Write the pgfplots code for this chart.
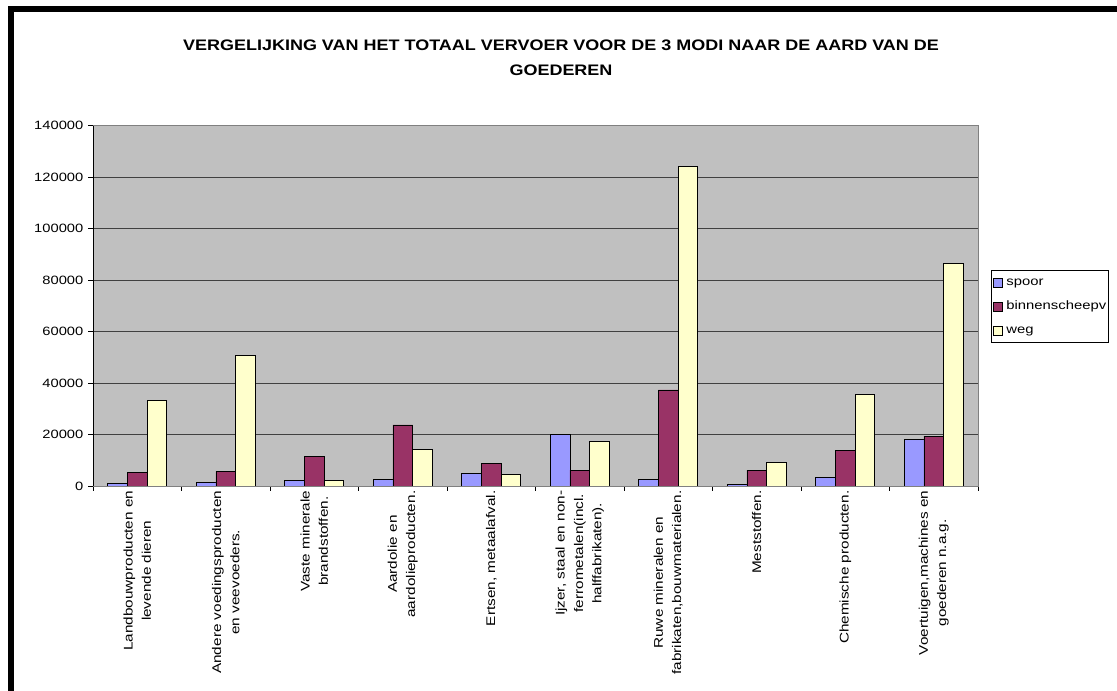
\documentclass[border=0pt]{standalone}
\usepackage{fontspec}
\setmainfont{Liberation Sans}[FakeStretch=1.22]
\newfontfamily\titlefont{Liberation Sans}[FakeStretch=1.18]
\usepackage{pgfplots}
\pgfplotsset{compat=1.18}
\definecolor{spoor}{RGB}{153,153,255}
\definecolor{binnen}{RGB}{153,51,102}
\definecolor{weg}{RGB}{255,255,204}
\definecolor{plotbg}{RGB}{192,192,192}
\begin{document}
\begin{tikzpicture}[x=1bp,y=1bp]
\path[use as bounding box] (0,0) rectangle (1117,691);
\fill[black] (8,0) rectangle (14,685);
\fill[black] (8,679) rectangle (1117,685);
\node[font=\titlefont\bfseries\fontsize{15.3}{25}\selectfont, align=center] at (561,633)
  {VERGELIJKING VAN HET TOTAAL VERVOER VOOR DE 3 MODI NAAR DE AARD VAN DE\\GOEDEREN};
\begin{axis}[
  at={(93bp,205bp)}, anchor=south west,
  scale only axis, width=885bp, height=360.3bp,
  ybar=0pt, bar width=19.67bp,
  legend image code/.code={\draw[#1, draw=black, line width=0.8bp] (0bp,-4.5bp) rectangle (9bp,4.5bp); \path (11.5bp,0bp);},
  xmin=-0.5, xmax=9.5, ymin=0, ymax=140000,
  xtick={0,...,9},
  xticklabels={
    {Landbouwproducten en\\levende dieren},
    {Andere voedingsproducten\\en veevoeders.},
    {Vaste minerale\\brandstoffen.},
    {Aardolie en\\aardolieproducten.},
    {Ertsen, metaalafval.},
    {Ijzer, staal en non-\\ferrometalen(incl.\\halffabrikaten).},
    {Ruwe mineralen en\\fabrikaten,bouwmaterialen.},
    {Meststoffen.},
    {Chemische producten.},
    {Voertuigen,machines en\\goederen n.a.g.}},
  minor xtick={-0.5,0.5,...,9.5},
  major x tick style={draw=none},
  ytick={0,20000,...,140000},
  scaled y ticks=false,
  yticklabel style={/pgf/number format/fixed, /pgf/number format/1000 sep={},
    /pgf/number format/assume math mode=true,
    font=\fontsize{12.1}{14}\selectfont, inner xsep=4.5bp},
  xticklabel style={font=\fontsize{12.6}{18.5}\selectfont, rotate=90, anchor=east, align=center, inner sep=0pt},
  xticklabel shift=-0.5bp,
  tick align=outside, tick pos=left,
  major tick length=5bp, minor tick length=5bp,
  tick style={black, line width=0.8bp},
  ymajorgrids, major grid style={black!75, line width=0.7bp},
  axis background/.style={fill=plotbg},
  axis line style={draw=black!50, line width=0.8bp},
  legend style={at={(1.0147,0.498)}, anchor=west, draw=black, line width=0.8bp, fill=white,
    font=\fontsize{12.2}{14}\selectfont, inner xsep=1.2bp, inner ysep=5bp, row sep=9.5bp,
    nodes={inner sep=1.5bp, text height=9bp, text depth=2.5bp}},
  legend cell align=left,
]
\addplot[fill=spoor, draw=black, line width=0.8bp] coordinates {(0,1000)(1,1400)(2,2200)(3,2700)(4,4900)(5,19900)(6,2700)(7,500)(8,3200)(9,18100)};
\addplot[fill=binnen, draw=black, line width=0.8bp] coordinates {(0,5300)(1,5700)(2,11400)(3,23700)(4,8800)(5,6200)(6,37300)(7,6200)(8,13700)(9,19400)};
\addplot[fill=weg, draw=black, line width=0.8bp] coordinates {(0,33400)(1,50600)(2,2200)(3,14200)(4,4500)(5,17200)(6,124000)(7,9300)(8,35700)(9,86600)};
\legend{spoor,binnenscheepv,weg}
\draw[black, line width=0.8bp] (rel axis cs:0,1) -- (rel axis cs:0,0) -- (rel axis cs:1,0);
\end{axis}
\end{tikzpicture}
\end{document}
